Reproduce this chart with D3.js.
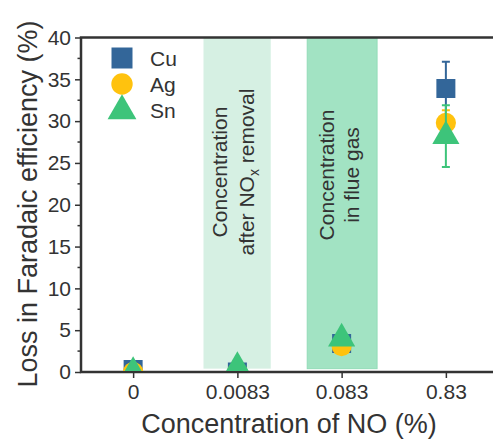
<!DOCTYPE html>
<html>
<head>
<meta charset="utf-8">
<script src="https://cdn.jsdelivr.net/npm/d3@7"></script>
<style>
  body { margin: 0; background: #fff; }
  text { font-family: 'Liberation Sans', Arial, sans-serif; fill: #333; }
</style>
</head>
<body>
<div id="chart"></div>
<script>
// categories on the x axis (NO concentration, %)
var concentrations = ['0', '0.0083', '0.083', '0.83'];
var yTicks = [0, 5, 10, 15, 20, 25, 30, 35, 40];

// loss in faradaic efficiency (%) per catalyst
var cuValues = [0.3, 0.0, 3.4, 33.9];
var agValues = [0.0, 0.0, 3.1, 29.8];
var snValues = [0.0, 0.6, 4.0, 28.2];

// error bars (+/-), only the last point has visible ones
var cuErrors = [0, 0, 0, 3.2];
var agErrors = [0, 0, 0, 1.5];
var snErrors = [0, 0, 0.4, 3.7];

var metals = ['Cu', 'Ag', 'Sn'];
var colors = {Cu: '#336699', Ag: '#ffc20e', Sn: '#3dc47a'};

var width = 493, height = 444;
var svg = d3.select('#chart').append('svg').attr('width', width).attr('height', height);

var x = d3.scalePoint().domain(concentrations).range([81, 498]).padding(0.5);
var y = d3.scaleLinear().domain([0, 40]).range([372, 37.5]);
var step = x.step();

// shaded regions behind the data
svg.append('rect').attr('x', x('0.0083') - 0.325 * step).attr('width', 0.645 * step)
    .attr('y', y(40)).attr('height', y(0.4) - y(40)).attr('fill', '#d6f0e3');
svg.append('rect').attr('x', x('0.083') - 0.33 * step).attr('width', 0.67 * step)
    .attr('y', y(40)).attr('height', y(0.4) - y(40)).attr('fill', '#a2e3c3')
    .attr('stroke', '#92dcb8').attr('stroke-width', 1);

var band1 = svg.append('text').attr('transform', `translate(${x('0.0083')},172)rotate(-90)`)
    .attr('text-anchor', 'middle').style('font-size', '21px');
band1.append('tspan').attr('x', 0).attr('dy', -10).text('Concentration');
var l2 = band1.append('tspan').attr('x', 0).attr('dy', 27);
l2.append('tspan').text('after NO');
l2.append('tspan').attr('dy', 5).style('font-size', '14px').text('x');
l2.append('tspan').attr('dy', -5).text(' removal');

var band2 = svg.append('text').attr('transform', `translate(${x('0.083')},175)rotate(-90)`)
    .attr('text-anchor', 'middle').style('font-size', '21px');
band2.append('tspan').attr('x', 0).attr('dy', -8).text('Concentration');
band2.append('tspan').attr('x', 0).attr('dy', 25).text('in flue gas');

// frame
svg.append('rect').attr('x', 81).attr('y', y(40)).attr('width', 417).attr('height', y(0) - y(40))
    .attr('fill', 'none').attr('stroke', '#333').attr('stroke-width', 2.5);

// y axis
var yAxis = svg.append('g').attr('transform', 'translate(81,0)')
    .call(d3.axisLeft(y).tickValues(yTicks).tickSize(6).tickPadding(4));
yAxis.append('g').selectAll('line').data(d3.range(2.5, 40, 5)).enter().append('line')
    .attr('x1', 0).attr('x2', -3.5).attr('y1', d => y(d)).attr('y2', d => y(d))
    .attr('stroke', '#333').attr('stroke-width', 1.5);
yAxis.select('.domain').remove();
yAxis.selectAll('.tick line').attr('stroke', '#333').attr('stroke-width', 1.5);
yAxis.selectAll('.tick text').style('font-size', '21px').attr('fill', '#3a3a3a')
    .style('font-family', "'Liberation Sans', Arial, sans-serif");

// x axis
var xAxis = svg.append('g').attr('transform', `translate(0,${y(0)})`)
    .call(d3.axisBottom(x).tickSize(6).tickPadding(6));
xAxis.select('.domain').remove();
xAxis.selectAll('.tick line').attr('stroke', '#333').attr('stroke-width', 1.5);
xAxis.selectAll('.tick text').style('font-size', '21px').attr('fill', '#3a3a3a')
    .style('font-family', "'Liberation Sans', Arial, sans-serif");

svg.append('text').attr('x', 289).attr('y', 433).attr('text-anchor', 'middle')
    .style('font-size', '27px').text('Concentration of NO (%)');
svg.append('text').attr('transform', 'translate(37,204)rotate(-90)').attr('text-anchor', 'middle')
    .style('font-size', '27px').text('Loss in Faradaic efficiency (%)');

// data, clipped to the plot area
svg.append('clipPath').attr('id', 'plotclip').append('rect')
    .attr('x', 81).attr('y', y(40)).attr('width', 417).attr('height', y(0) - y(40) - 1);
var plot = svg.append('g').attr('clip-path', 'url(#plotclip)');

var symbols = {Cu: d3.symbol(d3.symbolSquare, 361), Ag: d3.symbol(d3.symbolCircle, 320), Sn: d3.symbol(d3.symbolTriangle, 320)};
var legendSymbols = {Cu: d3.symbol(d3.symbolSquare, 441), Ag: d3.symbol(d3.symbolCircle, 360), Sn: d3.symbol(d3.symbolTriangle, 360)};
var series = [
    {name: 'Cu', values: cuValues, errors: cuErrors},
    {name: 'Ag', values: agValues, errors: agErrors},
    {name: 'Sn', values: snValues, errors: snErrors}
];

series.forEach(s => {
    var pts = concentrations.map((c, i) => ({c: c, v: s.values[i], e: s.errors[i]}));
    var g = plot.append('g');
    var eb = g.selectAll('g.err').data(pts.filter(d => d.e > 0)).enter().append('g')
        .attr('stroke', colors[s.name]).attr('stroke-width', 2);
    eb.append('line').attr('x1', d => x(d.c)).attr('x2', d => x(d.c))
        .attr('y1', d => y(d.v - d.e)).attr('y2', d => y(d.v + d.e));
    eb.append('line').attr('x1', d => x(d.c) - 4).attr('x2', d => x(d.c) + 4)
        .attr('y1', d => y(d.v + d.e)).attr('y2', d => y(d.v + d.e));
    eb.append('line').attr('x1', d => x(d.c) - 4).attr('x2', d => x(d.c) + 4)
        .attr('y1', d => y(d.v - d.e)).attr('y2', d => y(d.v - d.e));
    g.selectAll('path').data(pts).enter().append('path')
        .attr('d', symbols[s.name])
        .attr('transform', d => `translate(${x(d.c)},${y(d.v)})`)
        .attr('fill', colors[s.name]);
});

// legend
var legend = svg.append('g').attr('transform', 'translate(122,58)');
metals.forEach((m, i) => {
    var row = legend.append('g').attr('transform', `translate(0,${i * 26})`);
    row.append('path').attr('d', legendSymbols[m]).attr('fill', colors[m])
        .attr('transform', m == 'Sn' ? 'translate(0,1)' : null);
    row.append('text').attr('x', 28).attr('y', 7.5).style('font-size', '21px').text(m);
});
</script>
</body>
</html>
